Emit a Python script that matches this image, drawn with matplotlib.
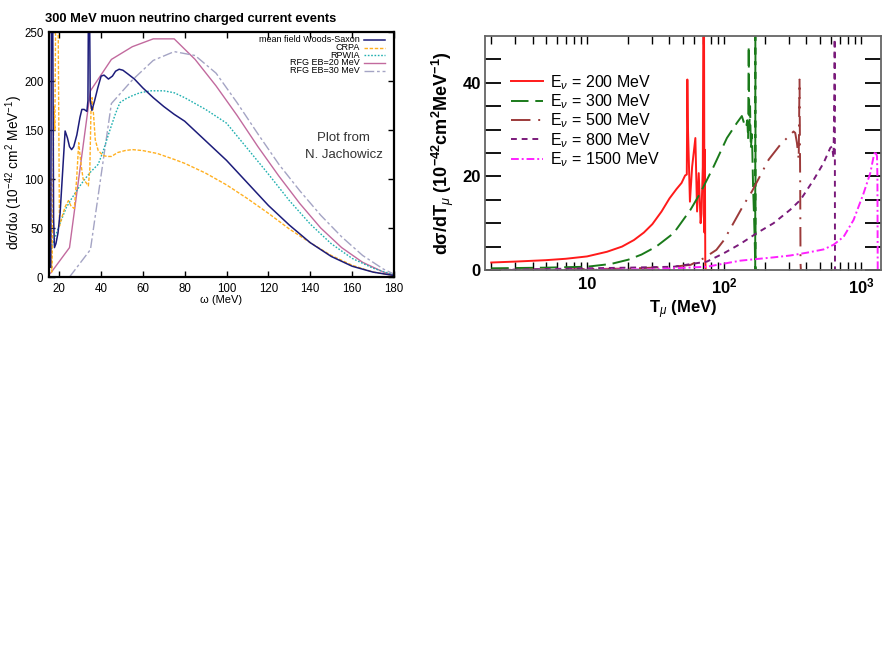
import numpy as np
import matplotlib
matplotlib.use("Agg")
import matplotlib.pyplot as plt

plt.rcParams['font.family'] = ['Liberation Sans', 'DejaVu Sans']
plt.rcParams['mathtext.fontset'] = 'custom'
plt.rcParams['mathtext.rm'] = 'Liberation Sans'
plt.rcParams['mathtext.it'] = 'Liberation Sans:italic'
plt.rcParams['mathtext.bf'] = 'Liberation Sans:bold'

# ---- left panel: 300 MeV muon neutrino, d sigma / d omega ----
ws_omega = [16.0, 16.4, 16.9, 17.4, 17.8, 18.5, 19.5, 20.5, 21.5, 22.9, 24.0, 25.0, 26.0,
            27.0, 28.5, 30.0, 30.9, 32.0, 33.3, 33.8, 34.1, 34.5, 34.9, 35.7, 37.0, 38.5,
            40.1, 41.5, 43.6, 45.5, 47.0, 48.7, 50.5, 53.0, 56.0, 60.0, 65.0, 70.0, 75.0,
            80.0, 90.0, 100.0, 110.0, 120.0, 130.0, 140.0, 150.0, 160.0, 170.0, 180.0]
ws_xsec = [10, 300, 300, 60, 30, 34, 45, 65, 100, 149, 142, 133, 130, 133, 145, 163, 171,
           171, 169, 180, 300, 300, 180, 170, 180, 193, 205, 206, 202, 205, 210, 212, 211,
           207, 202, 193, 183, 174, 166, 159, 139, 119, 96, 73, 53, 35, 21, 11, 5, 1.5]

crpa_omega = [15.5, 16.0, 16.5, 17.0, 17.5, 18.0, 18.5, 19.0, 19.6, 20.2, 21.5, 23.0, 24.5,
              25.8, 27.3, 28.4, 29.4, 30.5, 31.5, 33.0, 34.0, 34.7, 35.3, 35.8, 36.5, 37.3,
              38.7, 41.0, 43.0, 45.0, 48.0, 51.5, 55.0, 60.0, 67.0, 75.0, 80.0, 90.0, 100.0,
              110.0, 120.0, 130.0, 140.0, 150.0, 160.0, 170.0, 180.0]
crpa_xsec = [30, 100, 5, 60, 175, 150, 300, 300, 250, 52, 62, 72, 78, 72, 70, 100, 137, 115,
             100, 96, 93, 110, 175, 183, 165, 140, 129, 124, 123, 123, 127, 129, 130, 129,
             126, 120, 116, 106, 94, 80, 65, 49, 35, 22, 12, 5, 1.5]

rpwia_omega = [16.0, 16.5, 18.0, 20.0, 22.0, 23.5, 26.0, 29.0, 32.0, 35.0, 38.7, 41.0, 44.0,
               47.0, 49.1, 52.0, 55.0, 58.6, 64.0, 70.0, 75.0, 80.0, 90.0, 100.0, 110.0,
               120.0, 130.0, 140.0, 150.0, 160.0, 170.0, 180.0]
rpwia_xsec = [25, 31, 40, 52, 63, 71, 80, 90, 99, 107, 115, 128, 148, 167, 178, 182, 185,
              188, 190, 190, 188, 183, 171, 157, 131, 105, 78, 54, 34, 19, 9, 2]

rfg20_omega = [16.0, 25.0, 35.0, 45.0, 55.0, 65.0, 75.0, 85.0, 95.0, 105.0, 115.0, 125.0,
               135.0, 145.0, 155.0, 165.0, 175.0, 180.0]
rfg20_xsec = [4, 30, 190, 222, 235, 243, 243, 222, 195, 165, 133, 103, 75, 50, 30, 15, 5, 2]

rfg30_omega = [25.0, 35.0, 45.0, 55.0, 65.0, 75.0, 85.0, 95.0, 105.0, 115.0, 125.0, 135.0,
               145.0, 155.0, 165.0, 175.0, 180.0]
rfg30_xsec = [0, 28, 177, 201, 221, 230, 226, 208, 178, 146, 115, 88, 63, 41, 22, 8, 3]

left_labels = ['mean field Woods-Saxon', 'CRPA', 'RPWIA', 'RFG EB=20 MeV', 'RFG EB=30 MeV']

# ---- right panel: d sigma / d T_mu for several neutrino energies ----
t200 = [2.0, 3.0, 5.0, 7.0, 10, 14, 18, 22, 26, 30, 35, 40, 45, 49, 52, 53.5, 54.0, 54.6,
        56.4, 58.5, 61.8, 63.6, 65.4, 67.5, 68.5, 70.0, 70.8, 71.4, 72.0, 72.5, 73.0, 73.5,
        75, 84]
x200 = [1.6, 1.8, 2.1, 2.4, 2.9, 3.9, 5.0, 6.4, 8.0, 9.8, 12.5, 15.3, 17.3, 18.6, 20.2,
        20.4, 40.7, 30, 14.6, 22, 28.2, 12.5, 20.7, 10, 12, 22, 60, 60, 8, 25.7, 2, 0, 0, 0]

t300 = [2, 5, 10, 15, 20, 25, 32, 43, 57, 67, 84, 105, 124, 135, 140, 145, 148, 150, 151.5,
        153, 155, 157, 160, 163, 166, 168, 169, 169.5, 170, 172, 180]
x300 = [0.36, 0.5, 0.7, 1.3, 2.2, 3.3, 5.0, 7.9, 12.9, 16.4, 22.1, 28.2, 31.4, 32.9, 31.4,
        30.5, 32, 28, 47.9, 30, 35, 26, 29, 18, 10.7, 5, 0, 60, 0, 0, 0]

t500 = [2, 5, 10, 20, 30, 43, 57, 71, 88, 100, 139, 160, 212, 258, 322, 331, 341, 351, 356,
        360, 362, 364, 380]
x500 = [0.0, 0.1, 0.2, 0.3, 0.5, 0.7, 1.1, 2.5, 4.3, 6.4, 13.9, 16.8, 23.6, 26.8, 29.6, 29.3,
        27.1, 23.6, 40.7, 17.9, 1.4, 0, 0]

t800 = [2, 5, 10, 20, 43, 75, 100, 132, 174, 230, 305, 362, 452, 534, 597, 615, 630, 640,
        643, 646, 650, 670]
x800 = [0.0, 0.2, 0.36, 0.5, 0.7, 1.8, 3.6, 5.6, 7.9, 10.0, 12.9, 15.0, 19.3, 22.9, 26.1,
        26.4, 24, 37.9, 60, 0, 0, 0]

t1500 = [2, 10, 30, 75, 132, 230, 305, 403, 534, 631, 747, 883, 1045, 1169, 1237, 1272, 1309,
         1318, 1325, 1340]
x1500 = [0.0, 0.05, 0.15, 0.7, 2.0, 2.7, 3.1, 3.7, 4.4, 5.4, 7.1, 10.7, 16.4, 20.7, 24.3,
         25.4, 24.3, 20, 0, 0]

right_labels = ['E$_\\nu$ = 200 MeV', 'E$_\\nu$ = 300 MeV', 'E$_\\nu$ = 500 MeV',
                'E$_\\nu$ = 800 MeV', 'E$_\\nu$ = 1500 MeV']

fig = plt.figure(figsize=(8.86, 6.64), dpi=100)

# left panel
ax1 = fig.add_axes([49 / 886, 1 - 277 / 664, 345 / 886, 245 / 664])
left_styles = [
    dict(color='#1c1c7a', lw=1.1, ls='-'),
    dict(color='#ffb020', lw=1.0, ls=(0, (2.5, 1.2))),
    dict(color='#20b0b0', lw=1.0, ls=(0, (1.2, 1.2))),
    dict(color='#c26a9e', lw=1.0, ls='-'),
    dict(color='#a4a4c4', lw=1.0, ls=(0, (7, 2, 2, 2))),
]
series = [(ws_omega, ws_xsec), (crpa_omega, crpa_xsec), (rpwia_omega, rpwia_xsec),
          (rfg20_omega, rfg20_xsec), (rfg30_omega, rfg30_xsec)]
order = [3, 4, 2, 1, 0]
for i in order:
    ax1.plot(series[i][0], series[i][1], **left_styles[i])

ax1.set_xlim(15.2, 180)
ax1.set_ylim(0, 250)
ax1.set_xticks(np.arange(20, 181, 20))
ax1.set_yticks(np.arange(0, 251, 50))
ax1.tick_params(direction='in', top=True, right=True, length=4, width=1,
                labelsize=8.3, pad=4)
for s in ax1.spines.values():
    s.set_linewidth(1.6)
ax1.set_xlabel('ω (MeV)', fontsize=8, labelpad=0)
ax1.set_ylabel('dσ/dω (10$^{-42}$ cm$^2$ MeV$^{-1}$)', fontsize=9.8)
ax1.yaxis.set_label_coords(-0.069, 0.425)

for i, lab in enumerate(left_labels):
    y = 0.968 - i * 0.0315
    ax1.text(0.902, y, lab, transform=ax1.transAxes, ha='right', va='center', fontsize=6.5)
    ax1.plot([0.912, 0.975], [y, y], transform=ax1.transAxes, **left_styles[i])

ax1.text(0.854, 0.567, 'Plot from', transform=ax1.transAxes, ha='center', va='center',
         fontsize=9.5, color='#333333')
ax1.text(0.854, 0.5, 'N. Jachowicz', transform=ax1.transAxes, ha='center', va='center',
         fontsize=9.5, color='#333333')
fig.text(45 / 886, 1 - 19 / 664, '300 MeV muon neutrino charged current events',
         fontweight='bold', fontsize=9.3, va='center')

# right panel
ax2 = fig.add_axes([485 / 886, 1 - 270 / 664, 396 / 886, 234 / 664])
right_styles = [
    dict(color='#ff1a1a', lw=1.4, ls='-'),
    dict(color='#1a7a1a', lw=1.4, ls=(0, (9, 3.5))),
    dict(color='#9c3a3a', lw=1.4, ls=(0, (10, 4, 1, 4))),
    dict(color='#7a1a7a', lw=1.4, ls=(0, (3, 2.5))),
    dict(color='#ff20ff', lw=1.4, ls=(0, (4, 1.5, 1, 1.5))),
]
rseries = [(t200, x200), (t300, x300), (t500, x500), (t800, x800), (t1500, x1500)]
for (t, x), st, lab in zip(rseries, right_styles, right_labels):
    ax2.plot(t, x, label=lab, **st)

ax2.set_xscale('log')
ax2.set_xlim(1.8, 1400)
ax2.set_ylim(0, 50)
ax2.set_xticks([10, 100, 1000])
ax2.set_xticklabels(['10', '$\\mathbf{10^2}$', '$\\mathbf{10^3}$'])
ax2.set_yticks([0, 20, 40])
ax2.set_yticks([5, 10, 15, 25, 30, 35, 45], minor=True)
ax2.tick_params(axis='x', which='both', direction='in', top=True, length=6, width=1,
                color='black', labelsize=12, pad=5)
ax2.tick_params(axis='y', which='both', direction='in', right=True, length=11.5, width=1.3,
                labelsize=12, pad=3)
for lab in ax2.get_xticklabels() + ax2.get_yticklabels():
    lab.set_fontweight('bold')
for tk in ax2.yaxis.get_major_ticks():
    tk.tick1line.set_color('#888888')
    tk.tick2line.set_color('#888888')
for tk, loc in zip(ax2.yaxis.get_minor_ticks(), [5, 10, 15, 25, 30, 35, 45]):
    c = '#888888' if loc % 10 == 0 else 'black'
    tk.tick1line.set_color(c)
    tk.tick2line.set_color(c)
for s in ax2.spines.values():
    s.set_linewidth(1.3)
    s.set_color('#666666')

ax2.set_xlabel('T$_\\mu$ (MeV)', fontsize=12, fontweight='bold', labelpad=1)
ax2.set_ylabel('dσ/dT$_\\mu$ (10$^{\\mathbf{-42}}$cm$^{\\mathbf{2}}$MeV$^{\\mathbf{-1}}$)',
               fontsize=13, fontweight='bold')
ax2.yaxis.set_label_coords(-0.072, 0.5)

ax2.legend(loc='upper left', bbox_to_anchor=(0.05, 0.869), frameon=False, fontsize=11.5,
           handlelength=2.0, handletextpad=0.45, labelspacing=0.04, borderaxespad=0)

fig.savefig('out.png', dpi=100)
